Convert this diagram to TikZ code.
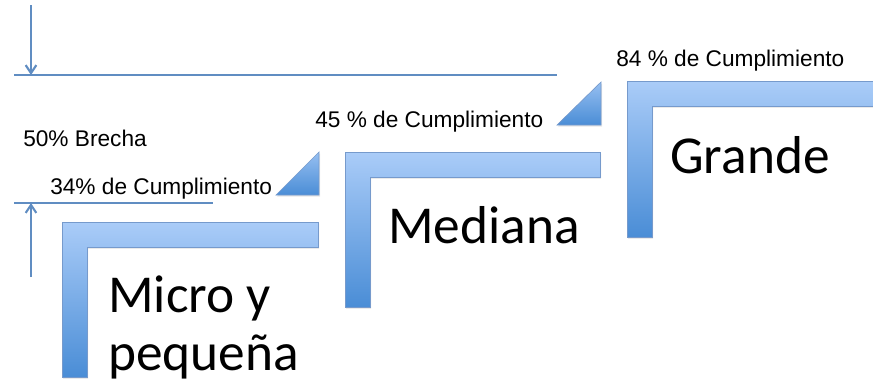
\documentclass[tikz,border=0pt]{standalone}
\usepackage{fontspec}
\setmainfont{Liberation Sans}
\newfontfamily\stepfont{Carlito}
\usetikzlibrary{calc,positioning,arrows.meta,shadows}

\definecolor{barlight}{RGB}{170,204,248}
\definecolor{bardark}{RGB}{74,141,214}
\definecolor{barline}{RGB}{118,154,204}
\definecolor{gapblue}{RGB}{96,141,194}

\tikzset{
  stepbar/.style={top color=barlight, bottom color=bardark, draw=barline, line width=0.5pt,
    drop shadow={opacity=0.25, shadow xshift=0.8pt, shadow yshift=-1.2pt}},
  stepwedge/.style={top color=barlight!80!bardark, bottom color=bardark, draw=barline, line width=0.5pt,
    drop shadow={opacity=0.2, shadow xshift=0.8pt, shadow yshift=-1.2pt}},
  gapline/.style={draw=gapblue, line width=2.2pt},
  gaparrow/.style={draw=gapblue, line width=1.6pt, -{Straight Barb[length=6pt,width=8pt]}},
  smalllabel/.style={inner sep=0pt, anchor=base west, font=\fontsize{17}{20}\selectfont},
  steplabel/.style={inner sep=0pt, anchor=base west, font=\stepfont\fontsize{40}{43.5}\selectfont}
}

\begin{document}
\begin{tikzpicture}[x=0.75pt, y=-0.75pt]
  \useasboundingbox (0,0) rectangle (873,382);

  % the three steps
  \path[stepbar] (62,222) -- (318,222) -- (318,247) -- (87,247) -- (87,377) -- (62,377) -- cycle;
  \path[stepbar] (345,152) -- (600,152) -- (600,177) -- (370,177) -- (370,307) -- (345,307) -- cycle;
  \path[stepbar] (627,81) -- (885,81) -- (885,106) -- (652,106) -- (652,237) -- (627,237) -- cycle;

  % wedges between the steps
  \path[stepwedge] (276,195) -- (319,195) -- (319,152) -- cycle;
  \path[stepwedge] (557,125) -- (601,125) -- (601,82) -- cycle;

  % gap marks
  \coordinate (topleft) at (14,75);
  \coordinate (topright) at (557,75);
  \coordinate (topstart) at (31,5);
  \coordinate (topend) at (31,75);
  \coordinate (lowleft) at (14,203);
  \coordinate (lowright) at (213,203);
  \coordinate (lowstart) at (31,277);
  \coordinate (lowend) at (31,203);

  \draw[gapline] (topleft) -- (topright);
  \draw[gaparrow] (topstart) -- (topend);
  \draw[gapline] (lowleft) -- (lowright);
  \draw[gaparrow] (lowstart) -- (lowend);

  % labels
  \node[smalllabel] (grandepct) at (616,66) {84 \% de Cumplimiento};
  \node[smalllabel] (medianapct) at (315,127) {45 \% de Cumplimiento};
  \node[smalllabel] (micropct) at (50,194) {34\% de Cumplimiento};
  \node[smalllabel] (brecha) at (23,146) {50\% Brecha};

  \node[steplabel] (grande) at (670,173) {Grande};
  \node[steplabel] (mediana) at (388,243) {Mediana};
  \node[steplabel] (micro) at (108,312) {Micro y};
  \node[steplabel] (pequena) at ($(micro.base west)+(0,58)$) {pequeña};
\end{tikzpicture}
\end{document}
